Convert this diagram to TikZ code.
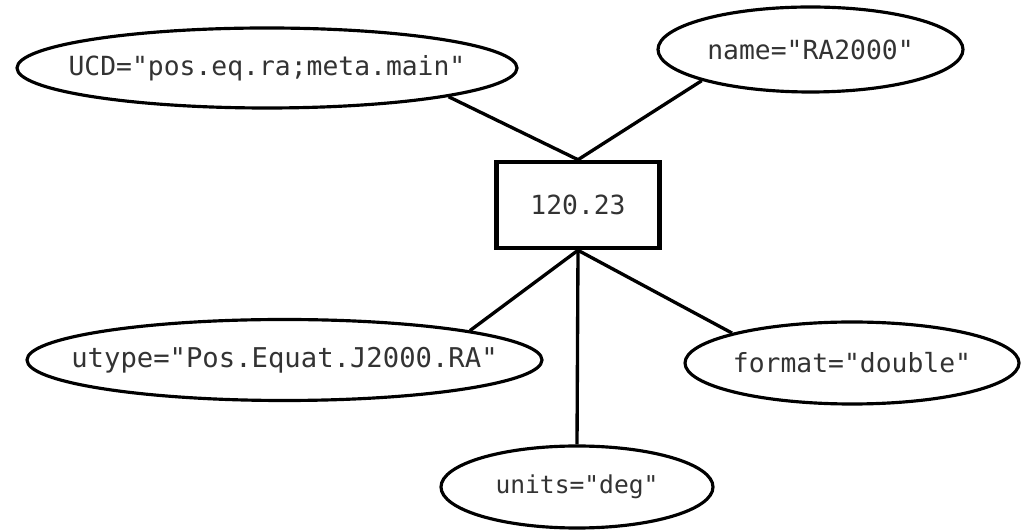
\documentclass[tikz,border=0pt]{standalone}
\usepackage{fontspec}
\setmonofont{DejaVu Sans Mono}
\usetikzlibrary{shapes.geometric}
\begin{document}
\begin{tikzpicture}[
    attr/.style={draw, ellipse, line width=1.8pt, inner sep=0pt},
    every label/.style={text=black!80, font=\ttfamily\fontsize{15}{18}\selectfont},
    valbox/.style={draw, rectangle, line width=2.6pt, minimum width=3.26cm, minimum height=1.72cm,
      text=black!80, font=\ttfamily\fontsize{15}{18}\selectfont},
    link/.style={line width=1.9pt}]
  \useasboundingbox (0,0) rectangle (20.42,10.6);
  % the value
  \node[valbox] (val) at (11.56,6.5) {120.23};
  % its attributes
  \node[attr, minimum width=10cm, minimum height=1.6cm,
    label={center:{UCD="pos.eq.ra;meta.main"}}] (ucd) at (5.34,9.24) {};
  \node[attr, minimum width=6.1cm, minimum height=1.7cm,
    label={center:{name="RA2000"}}] (name) at (16.21,9.61) {};
  \node[attr, minimum width=10.3cm, minimum height=1.62cm,
    label={[font=\ttfamily\fontsize{15.5}{18}\selectfont]center:{utype="Pos.Equat.J2000.RA"}}] (utype) at (5.69,3.4) {};
  \node[attr, minimum width=6.68cm, minimum height=1.64cm,
    label={center:{format="double"}}] (format) at (17.04,3.34) {};
  \node[attr, minimum width=5.44cm, minimum height=1.64cm,
    label={[font=\ttfamily\fontsize{14}{17}\selectfont]center:{units="deg"}}] (units) at (11.54,0.86) {};
  % links
  \draw[link] (ucd.-9) -- (val.north);
  \draw[link] (name.196) -- (val.north);
  \draw[link] (val.south) -- (utype.9);
  \draw[link] (val.south) -- (units.north);
  \draw[link] (val.south) -- (format.166);
\end{tikzpicture}
\end{document}
